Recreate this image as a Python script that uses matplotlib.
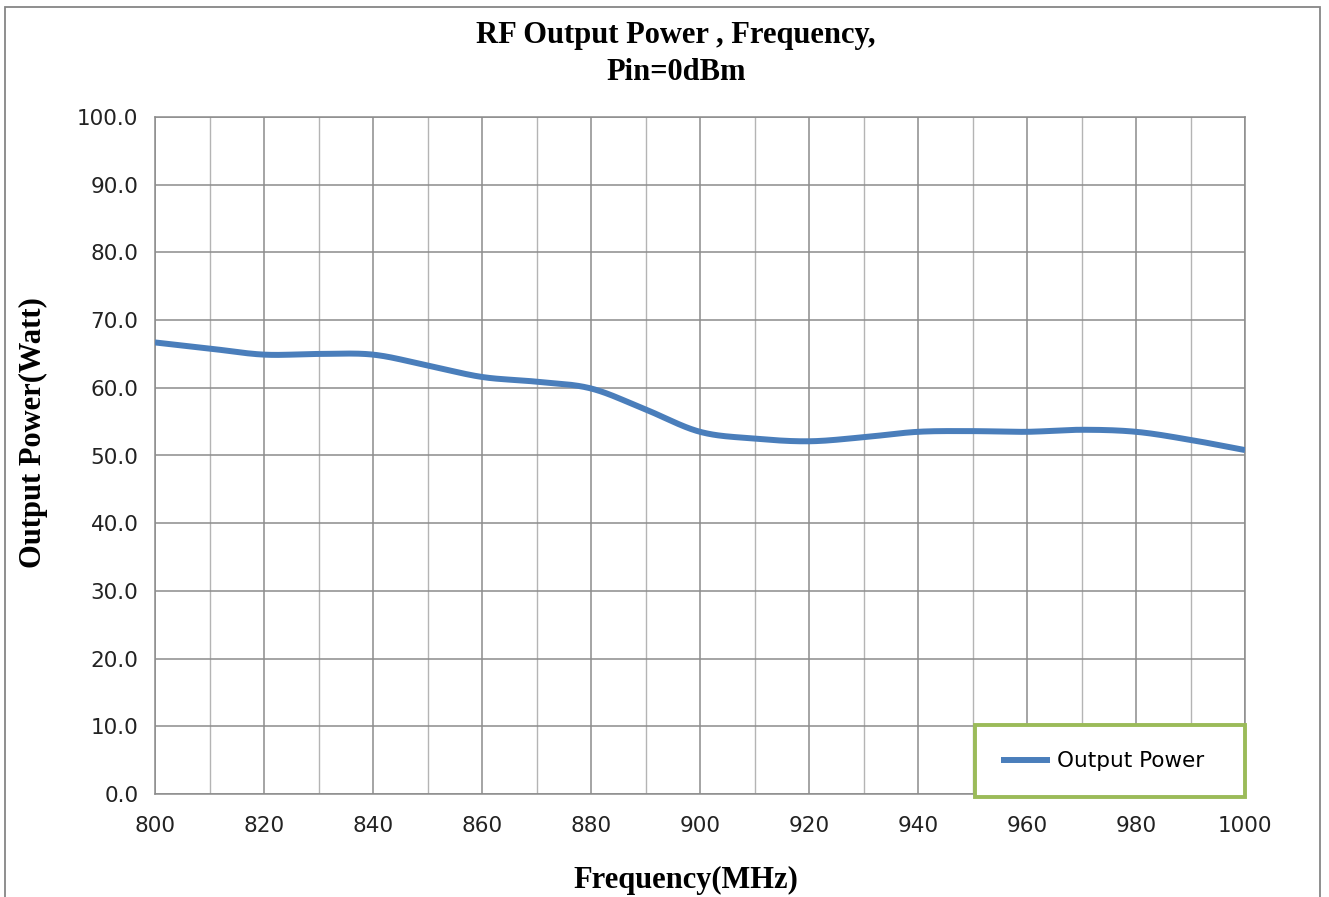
import numpy as np
import matplotlib
matplotlib.use("Agg")
import matplotlib.pyplot as plt
from matplotlib.patches import Rectangle
from matplotlib.ticker import MultipleLocator, FormatStrFormatter

freq = [800, 810, 820, 830, 840, 850, 860, 870, 880, 890, 900,
        910, 920, 930, 940, 950, 960, 970, 980, 990, 1000]
power = [66.7, 65.8, 64.9, 65.0, 64.9, 63.3, 61.6, 60.9, 59.9, 56.8, 53.5,
         52.5, 52.1, 52.7, 53.5, 53.6, 53.5, 53.8, 53.5, 52.3, 50.8]
title_lines = ["RF Output Power , Frequency,", "Pin=0dBm"]
xlabel = "Frequency(MHz)"
ylabel = "Output Power(Watt)"
series_name = "Output Power"


def smooth(x, y, n=30):
    # Catmull-Rom style smoothing (like Excel smoothed lines)
    x = np.asarray(x, float); y = np.asarray(y, float)
    px = np.concatenate([[2 * x[0] - x[1]], x, [2 * x[-1] - x[-2]]])
    py = np.concatenate([[2 * y[0] - y[1]], y, [2 * y[-1] - y[-2]]])
    xs, ys = [], []
    t = np.linspace(0, 1, n, endpoint=False)
    for i in range(1, len(px) - 2):
        for arr, out in ((px, xs), (py, ys)):
            p0, p1, p2, p3 = arr[i - 1], arr[i], arr[i + 1], arr[i + 2]
            out.extend(0.5 * ((2 * p1) + (-p0 + p2) * t
                              + (2 * p0 - 5 * p1 + 4 * p2 - p3) * t ** 2
                              + (-p0 + 3 * p1 - 3 * p2 + p3) * t ** 3))
    xs.append(x[-1]); ys.append(y[-1])
    return np.array(xs), np.array(ys)


W, H = 1329, 897
fig = plt.figure(figsize=(W / 100, H / 100), dpi=100)
ax = fig.add_axes([155 / W, 1 - 794 / H, (1245 - 155) / W, (794 - 117) / H])

sx, sy = smooth(freq, power)
ax.plot(sx, sy, color="#4a7ebb", lw=4.3, solid_capstyle="butt", label=series_name, zorder=3)

ax.set_xlim(800, 1000)
ax.set_ylim(0, 100)
ax.xaxis.set_major_locator(MultipleLocator(20))
ax.xaxis.set_minor_locator(MultipleLocator(10))
ax.yaxis.set_major_locator(MultipleLocator(10))
ax.yaxis.set_major_formatter(FormatStrFormatter("%.1f"))
ax.grid(which="major", axis="both", color="#8c8c8c", lw=1.1)
ax.grid(which="minor", axis="x", color="#b4b4b4", lw=1.0)
ax.tick_params(which="both", length=0)
ax.tick_params(axis="x", pad=16)
ax.tick_params(axis="y", pad=12)
for lab in ax.get_xticklabels() + ax.get_yticklabels():
    lab.set_family("DejaVu Sans")
    lab.set_fontsize(15.5)
    lab.set_color("#222222")
for s in ax.spines.values():
    s.set_color("#8c8c8c")
    s.set_linewidth(1.1)

fig.text(676 / W, 1 - 35 / H, title_lines[0], ha="center", va="center",
         family="Liberation Serif", fontweight="bold", fontsize=22)
fig.text(676 / W, 1 - 72 / H, title_lines[1], ha="center", va="center",
         family="Liberation Serif", fontweight="bold", fontsize=22)
fig.text(686 / W, 1 - 880 / H, xlabel, ha="center", va="center",
         family="Liberation Serif", fontweight="bold", fontsize=22)
fig.text(33 / W, 1 - 433 / H, ylabel, ha="center", va="center", rotation=90,
         family="Liberation Serif", fontweight="bold", fontsize=22)

leg = ax.legend(loc="lower left",
                bbox_to_anchor=(975 / W, 1 - 797 / H, 270 / W, 73 / H),
                bbox_transform=fig.transFigure, mode="expand",
                prop={"family": "DejaVu Sans", "size": 15.5},
                frameon=True, fancybox=False, borderpad=1.2,
                handlelength=2.3, handletextpad=0.33, borderaxespad=0)
fr = leg.get_frame()
fr.set_edgecolor("#9bbb59")
fr.set_linewidth(2.8)
fr.set_facecolor("white")
fr.set_alpha(1)
leg.set_zorder(5)

fig.patches.append(Rectangle((5 / W, -0.1), (1320 - 5) / W, 1.1 - 7 / H,
                             transform=fig.transFigure, fill=False,
                             edgecolor="#868686", lw=1.3))

fig.savefig("out.png", dpi=100)
